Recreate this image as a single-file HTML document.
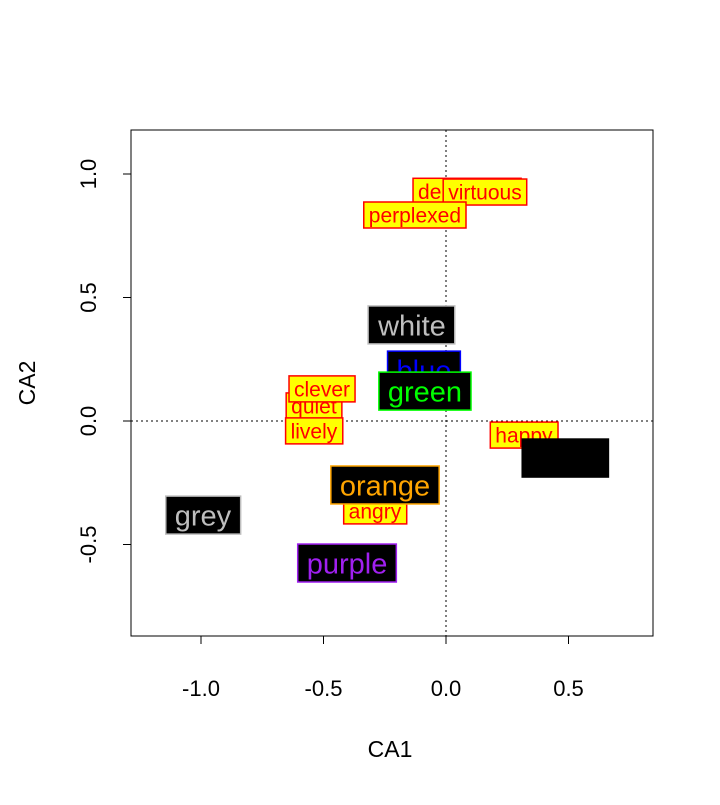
<!DOCTYPE html>
<html><head><meta charset="utf-8"><style>body{margin:0;background:#fff}svg{font-family:"Liberation Sans",sans-serif}</style></head>
<body>
<svg id="chart" width="720" height="800" viewBox="0 0 720 800">
<rect x="131" y="130" width="522" height="506" fill="none" stroke="#000"/>
<g id="marks"></g>
<text x="390" y="757" text-anchor="middle" font-size="23">CA1</text>
<text transform="translate(35,383) rotate(-90)" text-anchor="middle" font-size="23">CA2</text>
</svg>
<script>
const xTicks=[-1.0,-0.5,0.0,0.5];
const xTickLabels=["-1.0","-0.5","0.0","0.5"];
const yTicks=[1.0,0.5,0.0,-0.5];
const yTickLabels=["1.0","0.5","0.0","-0.5"];
const wordLabels=["depressed","virtuous","perplexed","quiet","lively","clever","happy","angry"];
const wordX=[0.086,0.159,-0.127,-0.539,-0.539,-0.506,0.318,-0.290];
const wordY=[0.93,0.927,0.834,0.061,-0.040,0.130,-0.057,-0.364];
const colorLabels=["white","blue","green","black","orange","grey","purple"];
const colorX=[-0.139,-0.09,-0.086,0.486,-0.249,-0.992,-0.404];
const colorY=[0.389,0.206,0.121,-0.150,-0.259,-0.381,-0.575];
const colorText=["#bebebe","#0000ff","#00ff00","#000000","#ffa500","#bebebe","#a020f0"];
const colorBorder=["#bebebe","#0000ff","#00ff00","#000000","#ffa500","#bebebe","#a020f0"];

const sx=v=>446+v*245, sy=v=>421-v*247;
const NS="http://www.w3.org/2000/svg";
const svg=document.getElementById('chart'), g=document.getElementById('marks');
function el(t,a,p){const e=document.createElementNS(NS,t);for(const k in a)e.setAttribute(k,a[k]);(p||svg).appendChild(e);return e;}
let l=el('line',{x1:131,x2:653,y1:sy(0),y2:sy(0),stroke:'#000','stroke-dasharray':'2,3'},g);


l=el('line',{x1:sx(0),x2:sx(0),y1:130,y2:636,stroke:'#000','stroke-dasharray':'2,3'},g);


xTicks.forEach((v,i)=>{
 const t=el('line',{x1:sx(v),x2:sx(v),y1:636,y2:644,stroke:'#000'});
 
 
 const tx=el('text',{x:sx(v),y:696,'text-anchor':'middle','font-size':22});
 tx.textContent=xTickLabels[i];
 
 
});
yTicks.forEach((v,i)=>{
 const t=el('line',{x1:123,x2:131,y1:sy(v),y2:sy(v),stroke:'#000'});
 
 
 const tx=el('text',{transform:`translate(96,${sy(v)}) rotate(-90)`,'text-anchor':'middle','font-size':22});
 tx.textContent=yTickLabels[i];
 
 
});
function box(lbl,x,y,fs,fill,stroke,tcol,px,h,name){
 const grp=el('g',{},g);
 
 
 const r=el('rect',{fill:fill,stroke:stroke,'stroke-width':1.5},grp);
 const t=el('text',{x:sx(x),y:sy(y)+fs*0.36,'text-anchor':'middle','font-size':fs,fill:tcol},grp);
 t.textContent=lbl;
 const b=t.getBBox();
 r.setAttribute('x',b.x-px);r.setAttribute('width',b.width+2*px);
 r.setAttribute('y',sy(y)-h/2);r.setAttribute('height',h);
}
wordLabels.forEach((w,i)=>box(w,wordX[i],wordY[i],21,'#ffff00','#ff0000','#ff0000',5,26,'word-label-'+w));
colorLabels.forEach((c,i)=>box(c,colorX[i],colorY[i],29,'#000000',colorBorder[i],colorText[i],9,38,'color-label-'+c));
</script>
</body></html>
